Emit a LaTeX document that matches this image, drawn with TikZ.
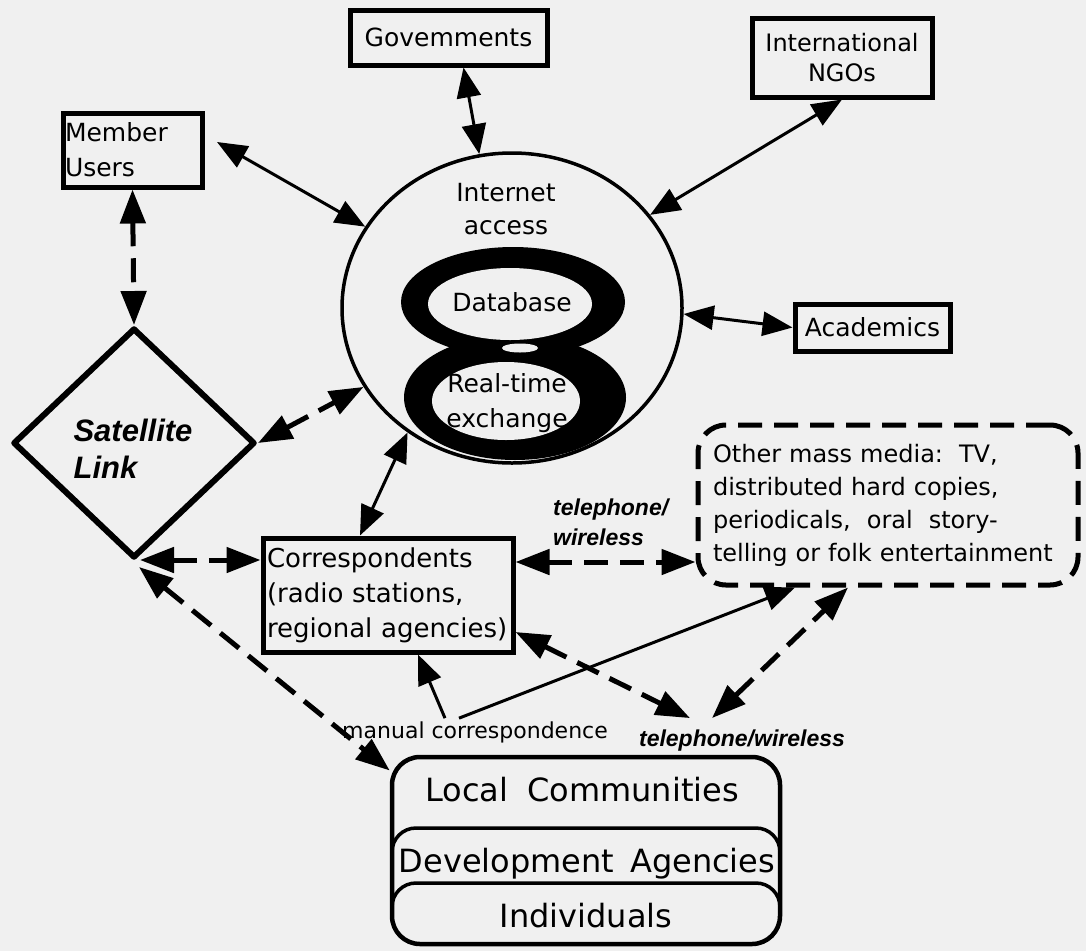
\documentclass[tikz,border=0pt]{standalone}
\usepackage{fontspec}
\setmainfont{DejaVu Sans}
\newfontfamily\helv{Liberation Sans}
\usetikzlibrary{arrows.meta,shapes.geometric,calc}
\definecolor{paper}{RGB}{240,240,240}
\newcommand\fsz[2]{\fontsize{#1pt}{#2pt}\selectfont}

\begin{document}
\begin{tikzpicture}[x=1pt,y=-1pt,
  >={Triangle[length=30pt,width=24pt]},
  box/.style={draw, rectangle, line width=5pt, inner sep=0pt},
  lbl/.style={inner sep=0pt},
  link/.style={line width=3pt, <->},
  feed/.style={line width=3pt, ->},
  dlink/.style={line width=5pt, dash pattern=on 24pt off 12pt,
    {Triangle[length=34pt,width=25pt]}-{Triangle[length=34pt,width=25pt]}},
  sep/.style={line width=3.5pt, rounded corners=24pt}
]
% paper
\fill[paper] (0,0) rectangle (1086,951);
\useasboundingbox (0,0) rectangle (1086,951);

% outer partners
\node[box, minimum width=197pt, minimum height=55pt, font=\fsz{25}{30}] (gov) at (448.5,37.5) {Govemments};
\node[box, minimum width=180pt, minimum height=79pt, align=center, font=\fsz{24}{30}] (ngo) at (842,57.5) {International\\NGOs};
\node[box, minimum width=139pt, minimum height=74pt, text width=135pt, align=left, font=\fsz{25}{35}] (mem) at (132.5,150) {Member\\Users};
\node[box, minimum width=155pt, minimum height=47pt, font=\fsz{25}{30}] (acad) at (872.5,327.5) {Academics};

% central hub
\node[draw, ellipse, line width=3.5pt, minimum width=340pt, minimum height=310pt, inner sep=0pt] (net) at (512,308) {};
% the figure eight
\fill[black] (513,302) ellipse [x radius=112pt, y radius=55pt];
\fill[black] (515,397.5) ellipse [x radius=111pt, y radius=62.5pt];
\fill[paper] (510,304) ellipse [x radius=82pt, y radius=36pt];
\fill[paper] (506,401) ellipse [x radius=74pt, y radius=39pt];
\fill[paper] (520,348) ellipse [x radius=18pt, y radius=4.5pt];
\node[lbl, align=center, font=\fsz{25}{33}] (inet) at (506,209) {Internet\\access};
\node[lbl, font=\fsz{25}{30}] (db) at (512,302) {Database};
\node[lbl, align=center, font=\fsz{25}{35}] (rt) at (507,403) {Real-time\\exchange};

% satellite link
\node[draw, diamond, line width=6pt, line join=round, minimum width=242pt, minimum height=230pt,
      inner sep=0pt] (sat) at (134,443) {};
\node[lbl, align=left, font=\helv\bfseries\itshape\fsz{31}{37}] (satlbl) at (133,449) {Satellite\\Link};

% correspondents
\node[box, minimum width=250pt, minimum height=114pt, text width=242pt, align=left, font=\fsz{26}{35}] (corr) at (388,595)
  {Correspondents\\(radio stations,\\regional agencies)};

% other media
\node[draw, line width=5pt, dash pattern=on 24pt off 12pt, rounded corners=28pt,
      minimum width=380pt, minimum height=160pt, text width=350pt, inner sep=0pt,
      align=left, font=\fsz{24}{33}] (media) at (888,505)
  {Other mass media:\ \ TV,\\distributed hard copies,\\periodicals,\ \ oral\ \ story-\\telling or folk entertainment};

% local stack
\node[draw, line width=4.5pt, rounded corners=28pt, minimum width=388pt, minimum height=187pt, inner sep=0pt] (local) at (586,850.5) {};
\draw[sep] ($(local.center)+(-194,8)$) -- ($(local.center)+(-194,-22.5)$) -- ($(local.center)+(194,-22.5)$) -- ($(local.center)+(194,8)$);
\draw[sep] ($(local.center)+(-194,63)$) -- ($(local.center)+(-194,32.5)$) -- ($(local.center)+(194,32.5)$) -- ($(local.center)+(194,63)$);
\node[lbl, font=\fsz{32}{38}] (lc) at (582,790) {Local\hspace{0.6em}Communities};
\node[lbl, font=\fsz{32}{38}] (da) at (587,864) {Development\hspace{0.5em}Agencies};
\node[lbl, font=\fsz{32}{38}] (ind) at (586,916) {Individuals};

% channel labels
\node[lbl, anchor=west, align=left, font=\helv\bfseries\itshape\fsz{23}{30}] (tel1) at (553,522) {telephone/\\wireless};
\node[lbl, font=\fsz{22}{28}] (manual) at (475,732) {manual correspondence};
\node[lbl, font=\helv\bfseries\itshape\fsz{23}{28}] (tel2) at (742,741) {telephone/wireless};

% solid links to the hub
\draw[link] ([shift={(15,0)}]gov.south) -- (net.102);
\draw[link] ([shift={(12.5,-8)}]mem.east) -- (net.151);
\draw[link] (ngo.south) -- (net.34);
\draw[link] (net.-2) -- (acad.west);
\draw[link] ([shift={(-28,0)}]corr.north) -- (net.230);

% dashed links
\draw[dlink] (mem.south) -- (sat.north);
\draw[dlink] (sat.east) -- (net.208);
\draw[dlink] ([shift={(6,-1)}]sat.south) -- ([shift={(0,-35)}]corr.west);
\draw[dlink] ([shift={(5,6)}]sat.south) -- ([shift={(0,-80)}]local.west);
\draw[dlink] ([shift={(0,-33)}]corr.east) -- ([shift={(0,57)}]media.west);
\draw[dlink] ([shift={(0,37)}]corr.east) -- ([shift={(-52,-12)}]tel2.north);
\draw[dlink] ([shift={(-30,-12)}]tel2.north) -- ([shift={(-40,0)}]media.south);

% manual correspondence
\draw[feed] ([shift={(-30,-3)}]manual.north) -- ([shift={(30,0)}]corr.south);
\draw[feed] ([shift={(-16,-3)}]manual.north) -- ([shift={(-93,0)}]media.south);
\end{tikzpicture}
\end{document}
